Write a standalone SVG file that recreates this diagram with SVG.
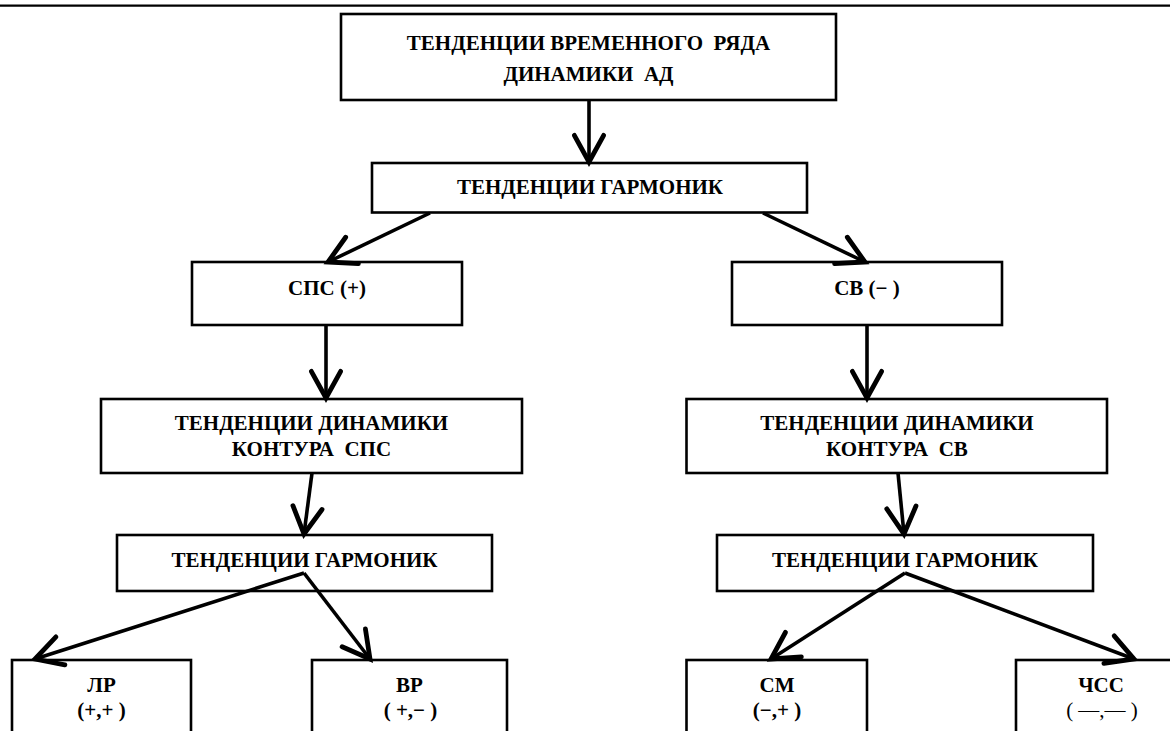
<svg xmlns="http://www.w3.org/2000/svg" width="1170" height="731" viewBox="0 0 1170 731">
<style>
  .box { fill: #fff; stroke: #000; stroke-width: 2.6; }
  .t { font-family: "Liberation Serif", "Times New Roman", serif; font-weight: bold; font-size: 21px; fill: #000; text-anchor: middle; white-space: pre; }
  .c { stroke: #000; stroke-width: 3.6; fill: none; }
</style>
<defs>
  <marker id="ah" markerUnits="userSpaceOnUse" orient="auto" refX="0" refY="0" markerWidth="40" markerHeight="40" viewBox="-25 -15 30 30" overflow="visible">
    <path d="M-20,-11 L0,0 L-20,11" fill="none" stroke="#000" stroke-width="3.6" stroke-linecap="round" stroke-linejoin="miter"/>
  </marker>
</defs>
<rect width="1170" height="731" fill="#fff"/>
<line x1="0" y1="5.7" x2="1170" y2="5.7" stroke="#000" stroke-width="2.2"/>

<g id="n-top">
  <rect class="box" x="341" y="14" width="495" height="86"/>
  <text class="t" x="588.5" y="50">ТЕНДЕНЦИИ ВРЕМЕННОГО  РЯДА</text>
  <text class="t" x="588.5" y="81">ДИНАМИКИ  АД</text>
</g>
<g id="n-harm1">
  <rect class="box" x="372" y="163" width="435" height="49.5"/>
  <text class="t" x="590" y="194">ТЕНДЕНЦИИ ГАРМОНИК</text>
</g>
<g id="n-sps">
  <rect class="box" x="192" y="262" width="270" height="63"/>
  <text class="t" x="327" y="295">СПС (+)</text>
</g>
<g id="n-sv">
  <rect class="box" x="732" y="262" width="270" height="63"/>
  <text class="t" x="867" y="295">СВ (− )</text>
</g>
<g id="n-kont-sps">
  <rect class="box" x="101" y="399" width="421" height="74"/>
  <text class="t" x="311.5" y="430">ТЕНДЕНЦИИ ДИНАМИКИ</text>
  <text class="t" x="311.5" y="456">КОНТУРА  СПС</text>
</g>
<g id="n-kont-sv">
  <rect class="box" x="686.5" y="399" width="420.5" height="74"/>
  <text class="t" x="897" y="430">ТЕНДЕНЦИИ ДИНАМИКИ</text>
  <text class="t" x="897" y="456">КОНТУРА  СВ</text>
</g>
<g id="n-harm-l">
  <rect class="box" x="117" y="535" width="375" height="56"/>
  <text class="t" x="304.5" y="567">ТЕНДЕНЦИИ ГАРМОНИК</text>
</g>
<g id="n-harm-r">
  <rect class="box" x="717" y="535" width="376" height="56"/>
  <text class="t" x="905" y="567">ТЕНДЕНЦИИ ГАРМОНИК</text>
</g>
<g id="n-lr">
  <rect class="box" x="12" y="660" width="179" height="90"/>
  <text class="t" x="101.5" y="692">ЛР</text>
  <text class="t" x="101.5" y="717">(+,+ )</text>
</g>
<g id="n-vr">
  <rect class="box" x="312" y="660" width="195" height="90"/>
  <text class="t" x="409.5" y="692">ВР</text>
  <text class="t" x="410.5" y="717">( +,− )</text>
</g>
<g id="n-sm">
  <rect class="box" x="686.5" y="660" width="180.5" height="90"/>
  <text class="t" x="777" y="692">СМ</text>
  <text class="t" x="777" y="717">(−,+ )</text>
</g>
<g id="n-chss">
  <rect class="box" x="1016" y="660" width="180" height="90"/>
  <text class="t" x="1101" y="692">ЧСС</text>
  <text class="t" x="1102" y="717" style="font-weight:normal">( —,— )</text>
</g>

<g id="connectors">
  <line class="c" x1="589" y1="100" x2="589" y2="162" marker-end="url(#ah)"/>
  <line class="c" x1="430" y1="213" x2="328" y2="262" marker-end="url(#ah)"/>
  <line class="c" x1="763" y1="213" x2="865" y2="262" marker-end="url(#ah)"/>
  <line class="c" x1="326" y1="325" x2="326" y2="398" marker-end="url(#ah)"/>
  <line class="c" x1="867" y1="325" x2="867" y2="398" marker-end="url(#ah)"/>
  <line class="c" x1="312" y1="473" x2="304" y2="534" marker-end="url(#ah)"/>
  <line class="c" x1="898" y1="473" x2="904" y2="534" marker-end="url(#ah)"/>
  <line class="c" x1="304" y1="573" x2="35" y2="659" marker-end="url(#ah)"/>
  <line class="c" x1="304" y1="573" x2="370" y2="659" marker-end="url(#ah)"/>
  <line class="c" x1="905" y1="573" x2="771" y2="659" marker-end="url(#ah)"/>
  <line class="c" x1="905" y1="573" x2="1134" y2="659" marker-end="url(#ah)"/>
</g>
</svg>
